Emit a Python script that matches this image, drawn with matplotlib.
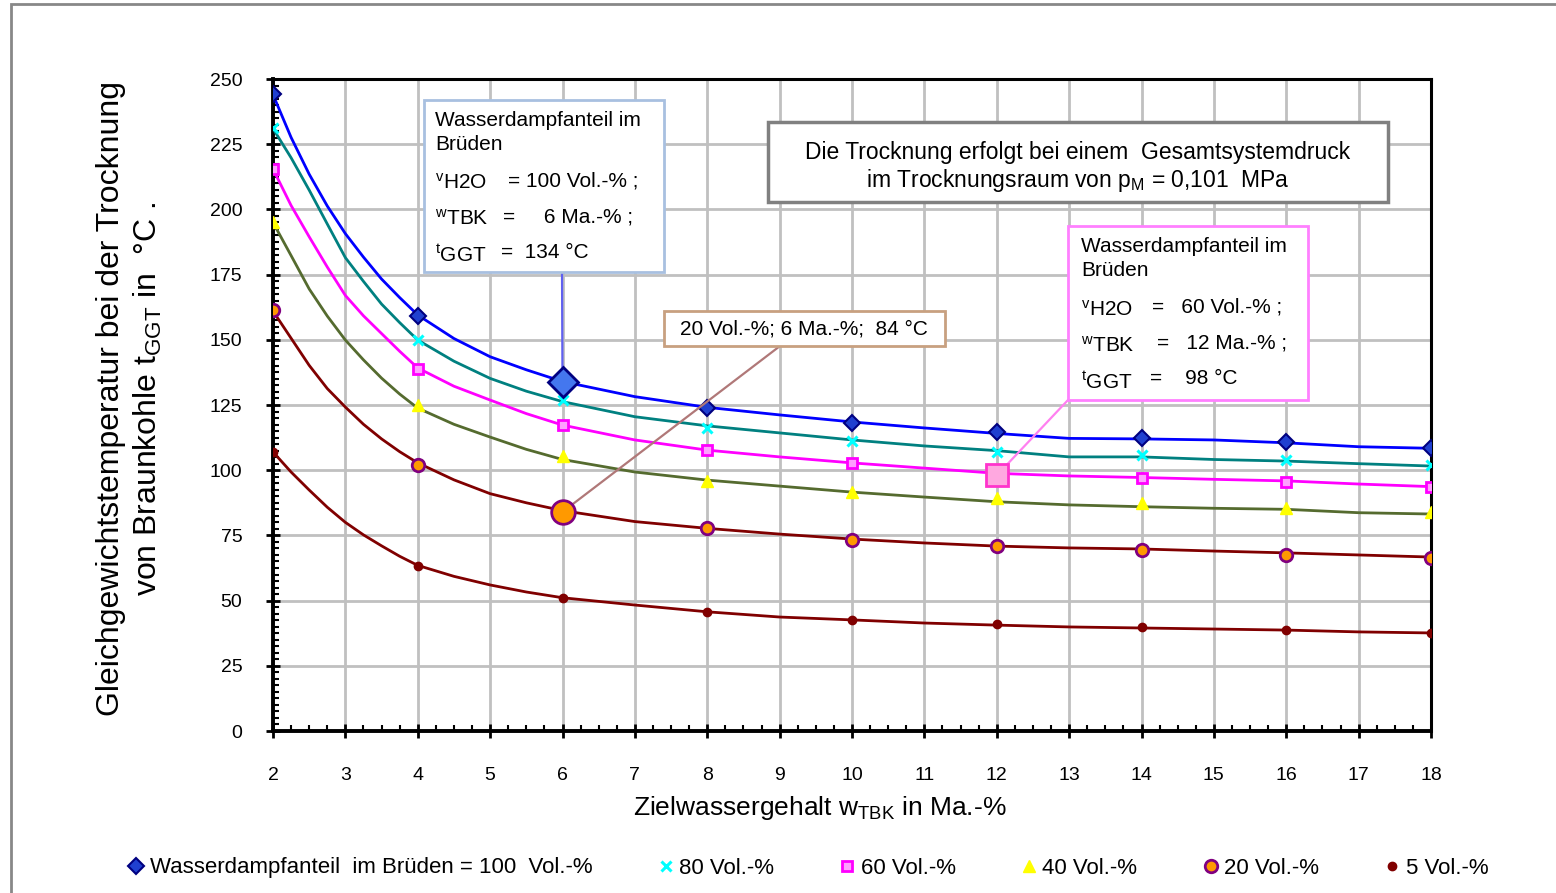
import numpy as np
import matplotlib
matplotlib.use('Agg')
import matplotlib.pyplot as plt
from matplotlib.lines import Line2D
from matplotlib.patches import Rectangle
from matplotlib.ticker import MultipleLocator

plt.rcParams['font.family'] = ['Liberation Sans', 'DejaVu Sans']
plt.rcParams['mathtext.default'] = 'regular'

# curve values (x in Ma.-%, y in degC)
x_line = [2, 2.25, 2.5, 2.75, 3, 3.25, 3.5, 3.75, 4, 4.5, 5, 5.5, 6, 7, 8, 9, 10, 11, 12, 13, 14, 15, 16, 17, 18]
line_100 = [244, 227.6, 213.5, 201.3, 190.7, 181.7, 173.3, 166.2, 159.5, 150.5, 143.5, 138.5, 134, 128.2, 124.1, 121.2, 118.5, 116.2, 114.1, 112.2, 112, 111.6, 110.5, 109, 108.4]
line_80 = [231, 219.8, 207.4, 194.4, 181.5, 172.4, 163.7, 156.6, 149.9, 141.8, 135.2, 130.3, 126.3, 120.5, 117, 114.3, 111.6, 109.3, 107.5, 105.1, 105.1, 104.1, 103.5, 102.5, 101.6]
line_60 = [215.5, 201.5, 189.5, 177.9, 167, 159.2, 152.4, 145.6, 139.2, 132.2, 126.9, 121.7, 117.3, 111.6, 107.7, 105.1, 102.8, 100.8, 98.8, 97.8, 97.2, 96.5, 95.9, 94.7, 93.7]
line_40 = [195, 182.3, 169.5, 159.1, 149.9, 142.3, 135.3, 129.2, 123.8, 117.6, 112.7, 108, 104.1, 99.3, 96.2, 93.9, 91.6, 89.7, 87.9, 86.7, 86, 85.4, 85, 83.7, 83.2]
line_20 = [161, 150.6, 140.2, 131.3, 124.2, 117.6, 112, 107.1, 102.8, 96.3, 91, 87.5, 84.5, 80.3, 77.7, 75.5, 73.6, 72.1, 70.9, 70.2, 69.8, 69, 68.3, 67.5, 66.7]
line_5 = [107, 99.3, 92.4, 85.8, 80, 75.2, 71, 67, 63.5, 59.3, 56, 53.3, 51.1, 48.3, 45.7, 43.7, 42.6, 41.4, 40.6, 39.9, 39.5, 39.1, 38.7, 38, 37.6]

# marker values at the even target water contents
x_mark = [2, 4, 6, 8, 10, 12, 14, 16, 18]
mark_100 = [244.2, 159.1, 135.4, 123.8, 118.1, 114.6, 112.3, 110.8, 108.5]
mark_80 = [231.2, 149.9, 126.9, 116.2, 111.2, 107, 105.8, 103.9, 102]
mark_60 = [215.5, 138.8, 117.3, 107.7, 102.8, 98.5, 97, 95.5, 93.6]
mark_40 = [195.2, 125, 105.4, 95.9, 91.6, 89.3, 87.4, 85.5, 84]
mark_20 = [161.4, 102, 85, 77.8, 73.2, 70.9, 69.4, 67.5, 66.3]
mark_5 = [107, 63.3, 51, 45.6, 42.6, 41, 39.9, 38.7, 37.6]

legend_labels = ['Wasserdampfanteil  im Brüden = 100  Vol.-%', '80 Vol.-%', '60 Vol.-%',
                 '40 Vol.-%', '20 Vol.-%', '5 Vol.-%']

# highlighted points (from the annotation boxes)
hl_100 = (6, 134)
hl_60 = (12, 98)
hl_20 = (6, 84)

W, H = 1556, 893
def fx(px):
    return px / W
def fy(py):
    return 1 - py / H

fig = plt.figure(figsize=(W / 100, H / 100), dpi=100)
ax = fig.add_axes([fx(273), fy(731), fx(1431) - fx(273), fy(79) - fy(731)])

lines = [line_100, line_80, line_60, line_40, line_20, line_5]
marks = [mark_100, mark_80, mark_60, mark_40, mark_20, mark_5]
line_colors = ['#0000FF', '#008080', '#FF00FF', '#556B2F', '#800000', '#800000']
mstyles = [
    dict(marker='D', ms=8, mfc='#2040D0', mec='#000080', mew=1.5),
    dict(marker='x', ms=7, mfc='#00FFFF', mec='#00FFFF', mew=2.2),
    dict(marker='s', ms=7, mfc='#FFA0FF', mec='#FF00FF', mew=2),
    dict(marker='^', ms=8, mfc='#FFFF00', mec='#FFFF00', mew=1),
    dict(marker='o', ms=9, mfc='#FF9900', mec='#800080', mew=2),
    dict(marker='o', ms=6, mfc='#800000', mec='#800000', mew=1),
]

for yl, ym, c, ms in zip(lines, marks, line_colors, mstyles):
    ax.plot(x_line, yl, color=c, lw=2, zorder=3)
    ax.plot(x_mark, ym, ls='none', zorder=4, **ms)

ax.plot(*hl_100, marker='D', ms=15, mfc='#4477EE', mec='#000080', mew=2, zorder=7)
ax.plot(*hl_60, marker='s', ms=16, mfc='#FFA8E0', mec='#FF33CC', mew=2, zorder=7)
ax.plot(*hl_20, marker='o', ms=17, mfc='#FF9900', mec='#800080', mew=2, zorder=7)

ax.set_xlim(2, 18)
ax.set_ylim(0, 250)
ax.xaxis.set_major_locator(MultipleLocator(1))
ax.xaxis.set_minor_locator(MultipleLocator(0.25))
ax.yaxis.set_major_locator(MultipleLocator(25))
ax.yaxis.set_minor_locator(MultipleLocator(2.5))
ax.grid(True, which='major', color='#C0C0C0', lw=2)
ax.set_axisbelow(True)
ax.tick_params(axis='x', which='major', direction='inout', length=10, width=2, labelsize=14, pad=21)
ax.tick_params(axis='y', which='major', direction='inout', length=10, width=2, labelsize=14, pad=17)
ax.tick_params(axis='both', which='minor', direction='in', length=4, width=1.5)
for s in ['left', 'bottom']:
    ax.spines[s].set_linewidth(2.8)
for s in ['top', 'right']:
    ax.spines[s].set_linewidth(2.2)

fig.text(fx(130), fy(399), 'Gleichgewichtstemperatur bei der Trocknung\nvon Braunkohle t$_{GGT}$ in  °C .',
         rotation=90, ha='center', va='center', multialignment='center', fontsize=23)
fig.text(fx(820), fy(808), 'Zielwassergehalt w$_{TBK}$ in Ma.-%', ha='center', va='center', fontsize=19)

# outer frame
fig.patches.append(Rectangle((fx(11), -0.1), 1.2, fy(4) + 0.1, transform=fig.transFigure,
                             fill=False, ec='#888888', lw=2))

def box(x0, y0, x1, y1, ec, lw=2):
    r = Rectangle((fx(x0), fy(y1)), fx(x1) - fx(x0), fy(y0) - fy(y1), transform=fig.transFigure,
                  fc='white', ec=ec, lw=lw, zorder=8, clip_on=False)
    ax.add_patch(r)

def txt(px, py, s, **kw):
    kw.setdefault('fontsize', 15)
    ax.text(fx(px), fy(py), s, transform=fig.transFigure, zorder=9, **kw)

def connect(pt, px, py, color):
    ax.annotate('', xy=pt, xycoords='data', xytext=(px, H - py), textcoords='figure pixels',
                arrowprops=dict(arrowstyle='-', color=color, lw=1.6, shrinkA=0, shrinkB=0), zorder=6)

# box 1: 100 Vol.-%
connect(hl_100, 562, 272, '#6060F0')
box(424, 100, 664, 272, '#A8C0E0')
txt(435, 120, 'Wasserdampfanteil im', va='center')
txt(435, 144, 'Brüden', va='center')
txt(435, 183, '$^{v}$H2O', va='center')
txt(508, 181, '= 100 Vol.-% ;', va='center')
txt(435, 219, '$^{w}$TBK', va='center')
txt(503, 217, '=     6 Ma.-% ;', va='center')
txt(435, 255, '$^{t}$GGT', va='center')
txt(501, 253, '=  134 °C', va='center')

# box 2: 60 Vol.-%
connect(hl_60, 1068, 400, '#FF80F0')
box(1068, 226, 1308, 400, '#FF80FF')
txt(1081, 246, 'Wasserdampfanteil im', va='center')
txt(1081, 271, 'Brüden', va='center')
txt(1081, 310, '$^{v}$H2O', va='center')
txt(1152, 307, '=   60 Vol.-% ;', va='center')
txt(1081, 346, '$^{w}$TBK', va='center')
txt(1157, 343, '=   12 Ma.-% ;', va='center')
txt(1081, 382, '$^{t}$GGT', va='center')
txt(1150, 379, '=    98 °C', va='center')

# box 3: 20 Vol.-%
connect(hl_20, 780, 346, '#B07878')
box(664, 311, 945, 346, '#C8A080')
txt(804, 329, '20 Vol.-%; 6 Ma.-%;  84 °C', ha='center', va='center', fontsize=15)

# box 4: pressure note
box(768, 122, 1388, 202, '#808080', lw=2.5)
txt(1078, 153, 'Die Trocknung erfolgt bei einem  Gesamtsystemdruck', ha='center', va='center', fontsize=16.5)
txt(1078, 180, 'im Trocknungsraum von p$_{M}$ = 0,101  MPa', ha='center', va='center', fontsize=16.5)

handles = [Line2D([], [], ls='none', **ms) for ms in mstyles]
fig.legend(handles, legend_labels, loc='center', bbox_to_anchor=(fx(808), fy(868)), ncol=6,
           frameon=False, fontsize=16, handlelength=0.8, handletextpad=0.2, columnspacing=2.9)

fig.savefig('out.png', dpi=100)
